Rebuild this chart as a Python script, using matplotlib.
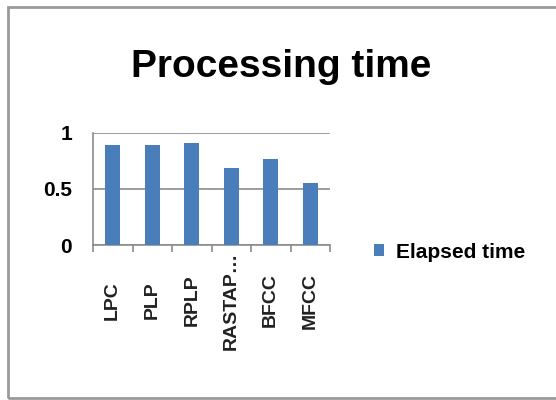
import numpy as np
import matplotlib.pyplot as plt
from matplotlib.patches import Rectangle

categories = ["LPC", "PLP", "RPLP", "RASTAP…", "BFCC", "MFCC"]
elapsed = [0.89, 0.89, 0.91, 0.69, 0.77, 0.55]
yticks = [0, 0.5, 1]
ytick_labels = ["0", "0.5", "1"]

fig = plt.figure(figsize=(5.56, 4), dpi=100)
fig.patches.append(Rectangle((8/556, 2/400), 1.2, 391/400, transform=fig.transFigure,
                             fill=False, edgecolor="#9a9a9a", linewidth=2))

ax = fig.add_axes([93/556, 1-245/400, (330-93)/556, 112/400])
x = np.arange(len(categories))
ax.bar(x, elapsed, width=0.38, color="#4a7ebb", label="Elapsed time", zorder=3)
ax.set_xlim(-0.5, len(categories)-0.5)
ax.set_ylim(0, 1)
ax.set_yticks(yticks)
ax.set_yticklabels(ytick_labels, fontsize=15, fontweight="bold", family="Liberation Sans")
ax.yaxis.grid(True, color="#8c8c8c", linewidth=1.2, zorder=0)
ax.tick_params(axis="y", length=0, pad=15)
ax.set_xticks(x)
ax.set_xticklabels(categories, rotation=90, fontsize=14, fontweight="bold",
                   family="Liberation Sans", color="#222222", va="center")
ax.set_xticks(np.arange(-0.5, len(categories)), minor=True)
ax.tick_params(axis="x", which="major", length=0, pad=40)
ax.tick_params(axis="x", which="minor", length=5, color="#8c8c8c", width=1.2)
for s in ["top", "right"]:
    ax.spines[s].set_visible(False)
ax.spines["left"].set_color("#8c8c8c")
ax.spines["bottom"].set_color("#8c8c8c")
ax.spines["left"].set_linewidth(1.2)
ax.spines["bottom"].set_linewidth(1.2)

fig.text(281/556, 1-77/400, "Processing time", ha="center", va="baseline",
         fontsize=28, fontweight="bold", family="Liberation Sans")
fig.legend(loc="center left", bbox_to_anchor=(366/556, 1-252/400), frameon=False,
           handlelength=0.45, handleheight=0.45, handletextpad=0.6, borderaxespad=0,
           prop={"weight": "bold", "size": 15, "family": "Liberation Sans"})

fig.savefig("out.png", dpi=100)
